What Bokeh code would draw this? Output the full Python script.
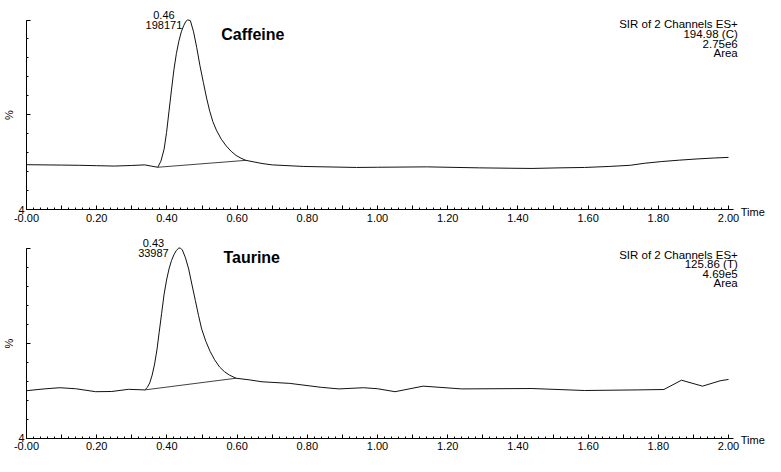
from bokeh.plotting import figure
from bokeh.models import Range1d, FixedTicker, Label
from bokeh.layouts import column
from bokeh.embed import file_html
from bokeh.resources import INLINE

# ---------------- data ----------------
caf_time = [0.00, 0.05, 0.10, 0.15, 0.20, 0.25, 0.30, 0.337, 0.355, 0.374,
            0.383, 0.392, 0.399, 0.406, 0.413, 0.420, 0.427, 0.434, 0.441,
            0.448, 0.454, 0.459, 0.463, 0.467, 0.476, 0.485, 0.494, 0.504,
            0.513, 0.522, 0.531, 0.541, 0.555, 0.569, 0.583, 0.597, 0.611,
            0.625, 0.648, 0.671, 0.70, 0.79, 0.94, 1.00, 1.14, 1.29, 1.38,
            1.44, 1.52, 1.59, 1.66, 1.72, 1.76, 1.81, 1.86, 1.91, 1.96, 2.00]
caf_pct = [26.7, 26.6, 26.5, 26.4, 26.2, 26.0, 26.3, 26.6, 26.0, 25.4,
           28.5, 34.5, 43.0, 53.8, 64.5, 74.8, 83.0, 89.2, 94.0,
           97.2, 99.3, 100.0, 99.9, 99.6, 94.0, 86.0, 77.0, 68.3,
           60.5, 53.8, 48.5, 44.2, 39.6, 36.2, 33.5, 31.4, 30.0,
           28.9, 28.1, 27.3, 26.6, 25.8, 25.3, 25.4, 25.6, 25.1, 24.9,
           24.8, 25.1, 25.3, 25.8, 26.4, 27.4, 28.3, 29.0, 29.6, 30.1, 30.4]
caf_base_time = [0.374, 0.625]
caf_base_pct = [25.4, 28.9]

tau_time = [0.00, 0.05, 0.095, 0.14, 0.197, 0.243, 0.29, 0.337, 0.344, 0.351,
            0.358, 0.365, 0.372, 0.378, 0.385, 0.392, 0.399, 0.406, 0.413,
            0.420, 0.427, 0.434, 0.439, 0.444, 0.453, 0.462, 0.471, 0.481,
            0.490, 0.499, 0.511, 0.523, 0.536, 0.550, 0.564, 0.578, 0.597,
            0.634, 0.671, 0.75, 0.84, 0.89, 0.96, 1.00, 1.05, 1.13, 1.24,
            1.44, 1.59, 1.74, 1.816, 1.866, 1.926, 1.976, 2.00]
tau_pct = [27.9, 28.8, 29.4, 28.9, 27.4, 27.5, 28.6, 28.3, 29.5, 31.8,
           35.8, 41.4, 49.0, 57.4, 67.0, 76.6, 83.8, 89.4, 93.6,
           96.6, 98.8, 100.0, 99.9, 99.0, 95.0, 89.4, 81.8, 73.5,
           66.0, 59.1, 52.8, 47.8, 43.5, 39.9, 37.5, 35.8, 34.2,
           33.4, 32.4, 31.6, 29.6, 28.8, 29.4, 28.9, 27.4, 30.2, 28.8,
           29.0, 28.0, 28.3, 28.5, 33.2, 30.2, 32.9, 33.6]
tau_base_time = [0.337, 0.597]
tau_base_pct = [28.3, 34.2]

x_ticks = [0.0, 0.1, 0.2, 0.3, 0.4, 0.5, 0.6, 0.7, 0.8, 0.9, 1.0,
           1.1, 1.2, 1.3, 1.4, 1.5, 1.6, 1.7, 1.8, 1.9, 2.0]
x_tick_labels = ["-0.00", "", "0.20", "", "0.40", "", "0.60", "", "0.80", "",
                 "1.00", "", "1.20", "", "1.40", "", "1.60", "", "1.80", "", "2.00"]
x_minor = [round(0.02 * i, 2) for i in range(101)]
y_ticks = [4, 52, 100]
y_tick_labels = ["4", "", ""]
y_minor = [round(4 + 9.6 * i, 1) for i in range(11)]

# ---------------- layout (pixels inside each figure) ----------------
W = 765
X0_PX, X2_PX = 26.0, 728.0           # where time 0.00 and 2.00 fall
XMAX = 2.015                          # end of the time axis line
panels = [
    dict(t=caf_time, p=caf_pct, bt=caf_base_time, bp=caf_base_pct,
         peak_t=0.46, peak_lbl="0.46", area="198171", name="Caffeine",
         name_x=0.555, name_dy=-14.5,
         info=["SIR of 2 Channels ES+", "194.98 (C)", "2.75e6", "Area"],
         info_dy=[-4.2, -13.8, -23.5, -33.0], H=227, top_px=19.5, bot_px=209.0),
    dict(t=tau_time, p=tau_pct, bt=tau_base_time, bp=tau_base_pct,
         peak_t=0.43, peak_lbl="0.43", area="33987", name="Taurine",
         name_x=0.561, name_dy=-9.5,
         info=["SIR of 2 Channels ES+", "125.86 (T)", "4.69e5", "Area"],
         info_dy=[-6.5, -16.0, -25.8, -34.8], H=229, top_px=20.5, bot_px=210.5),
]

FONT = "Liberation Sans"
INK = "#111111"
Y_LO, Y_HI = 4, 100


def lab(p, x, y, text, dx=0, dy=0, align="center", base="middle", size="11px", style="normal"):
    p.add_layout(Label(x=x, y=y, text=text, x_offset=dx, y_offset=dy,
                       text_align=align, text_baseline=base, text_font=FONT,
                       text_font_size=size, text_font_style=style, text_color="black"))


figs = []
for d in panels:
    H = d["H"]
    ux = (X2_PX - X0_PX) / 2.0
    x_start = -X0_PX / ux
    x_end = (W - X0_PX) / ux
    uy = (d["bot_px"] - d["top_px"]) / (Y_HI - Y_LO)
    y_end = Y_HI + d["top_px"] / uy
    y_start = Y_LO - (H - d["bot_px"]) / uy

    p = figure(width=W, height=H, x_range=Range1d(x_start, x_end),
               y_range=Range1d(y_start, y_end),
               output_backend="svg", toolbar_location=None,
               min_border_left=0, min_border_right=0,
               min_border_top=0, min_border_bottom=0)
    p.outline_line_color = None
    p.grid.visible = False
    p.background_fill_color = "white"
    p.border_fill_color = "white"

    p.line(d["t"], d["p"], line_color=INK, line_width=1)
    p.line(d["bt"], d["bp"], line_color=INK, line_width=0.8)

    xa = p.xaxis[0]
    xa.fixed_location = Y_LO
    xa.bounds = (0, XMAX)
    xa.ticker = FixedTicker(ticks=x_ticks, minor_ticks=x_minor)
    xa.major_label_overrides = {t: l for t, l in zip(x_ticks, x_tick_labels)}
    xa.major_tick_in = 4
    xa.major_tick_out = 0
    xa.minor_tick_in = 2
    xa.minor_tick_out = 0
    xa.major_label_standoff = 4
    xa.major_label_text_font = FONT
    xa.major_label_text_font_size = "11px"
    xa.major_label_text_color = "black"
    xa.axis_line_color = "black"
    xa.major_tick_line_color = "black"
    xa.minor_tick_line_color = "black"

    ya = p.yaxis[0]
    ya.fixed_location = 0
    ya.bounds = (Y_LO, Y_HI)
    ya.ticker = FixedTicker(ticks=y_ticks, minor_ticks=y_minor)
    ya.major_label_overrides = {t: l for t, l in zip(y_ticks, y_tick_labels)}
    ya.major_tick_in = 4
    ya.major_tick_out = 0
    ya.minor_tick_in = 2
    ya.minor_tick_out = 0
    ya.major_label_standoff = 2
    ya.major_label_text_font = FONT
    ya.major_label_text_font_size = "11px"
    ya.major_label_text_color = "black"
    ya.axis_label = "%"
    ya.axis_label_standoff = 0
    ya.axis_label_text_font = FONT
    ya.axis_label_text_font_size = "11px"
    ya.axis_label_text_font_style = "normal"
    ya.axis_label_text_color = "black"
    ya.axis_line_color = "black"
    ya.major_tick_line_color = "black"
    ya.minor_tick_line_color = "black"

    # peak annotation
    lab(p, d["peak_t"], Y_HI, d["peak_lbl"], dx=-24, dy=5.5)
    lab(p, d["peak_t"], Y_HI, d["area"], dx=-24, dy=-5.0)
    # compound name
    lab(p, d["name_x"], Y_HI, d["name"], dy=d["name_dy"], align="left",
        size="16px", style="bold")
    # channel info block
    for txt, dy in zip(d["info"], d["info_dy"]):
        lab(p, XMAX, Y_HI, txt, dx=4, dy=dy, align="right", size="11.5px")
    # axis title
    lab(p, XMAX, Y_LO, "Time", dx=7, dy=-2, align="left", size="11px")

    figs.append(p)

layout = column(*figs, spacing=0)
open("out.html", "w").write(file_html(layout, INLINE))
